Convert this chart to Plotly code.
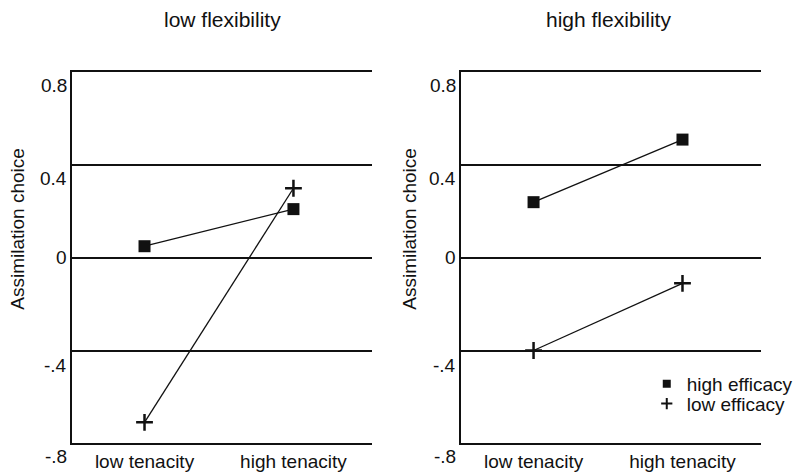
import plotly.graph_objects as go

# ---- data ----
tenacity = ["low tenacity", "high tenacity"]
panel_titles = ["low flexibility", "high flexibility"]
series_names = ["high efficacy", "low efficacy"]
low_flex_high_eff = [0.05, 0.21]
low_flex_low_eff = [-0.71, 0.30]
high_flex_high_eff = [0.24, 0.51]
high_flex_low_eff = [-0.40, -0.11]
y_tick_vals = [0.8, 0.4, 0, -0.4, -0.8]
y_tick_text = ["0.8", "0.4", "0", "-.4", "-.8"]
grid_vals = [-0.4, 0, 0.4]
y_title = "Assimilation choice"

# ---- style ----
W, H = 798, 472
FONT = "Liberation Sans, Arial, sans-serif"
INK = "#111111"
FS = 19
TFS = 21
label_yshift = [-13, -13, 0, -15, -13]

x_pos = list(range(len(tenacity)))

fig = go.Figure()

panels = [
    ("x", "y", low_flex_high_eff, low_flex_low_eff),
    ("x2", "y2", high_flex_high_eff, high_flex_low_eff),
]
for xa, ya, he, le in panels:
    fig.add_trace(go.Scatter(x=x_pos, y=he, xaxis=xa, yaxis=ya, mode="lines+markers",
                             line=dict(color=INK, width=1.3),
                             marker=dict(symbol="square", size=12, color=INK),
                             showlegend=False, cliponaxis=False))
    fig.add_trace(go.Scatter(x=x_pos, y=le, xaxis=xa, yaxis=ya, mode="lines+markers",
                             line=dict(color=INK, width=1.3),
                             marker=dict(symbol="cross-thin", size=12, color=INK,
                                         line=dict(color=INK, width=2.5)),
                             showlegend=False, cliponaxis=False))

# legend entries (markers only), one legend box per entry
fig.add_trace(go.Scatter(x=[None], y=[None], xaxis="x2", yaxis="y2", mode="markers",
                         name=series_names[0], legend="legend",
                         marker=dict(symbol="square", size=8, color=INK)))
fig.add_trace(go.Scatter(x=[None], y=[None], xaxis="x2", yaxis="y2", mode="markers",
                         name=series_names[1], legend="legend2",
                         marker=dict(symbol="cross-thin", size=8, color=INK,
                                     line=dict(color=INK, width=2))))

xdoms = [[73 / W, 380 / W], [470 / W, 777 / W]]
ydom = [(H - 447) / H, (H - 73) / H]

def xaxis_cfg(dom, anchor):
    return dict(domain=dom, anchor=anchor, range=[-0.49, 1.53],
                tickvals=x_pos, ticktext=tenacity, ticks="", showgrid=False,
                zeroline=False, showline=True, mirror=True, linecolor=INK, linewidth=1.6,
                tickfont=dict(family=FONT, size=FS, color=INK), fixedrange=True)

def yaxis_cfg(anchor):
    return dict(domain=ydom, anchor=anchor, range=[-0.8, 0.8],
                tickvals=grid_vals, showticklabels=False, ticks="",
                showgrid=True, gridcolor=INK, gridwidth=1.6, zeroline=False,
                showline=True, mirror=False, linecolor=INK, linewidth=1.6, fixedrange=True)

annotations = []
title_x = [227, 621]
ytitle_x = [17, 417]
for i, (xa, ya) in enumerate([("x", "y"), ("x2", "y2")]):
    annotations.append(dict(text=panel_titles[i], xref="paper", yref="paper",
                            x=title_x[i] / W, y=(H - 20) / H, showarrow=False,
                            xanchor="center", yanchor="middle",
                            font=dict(family=FONT, size=TFS, color=INK)))
    annotations.append(dict(text=y_title, xref="paper", yref="paper",
                            x=ytitle_x[i] / W, y=(H - 231) / H, showarrow=False,
                            textangle=-90, xanchor="center", yanchor="middle",
                            font=dict(family=FONT, size=FS, color=INK)))
    for v, t, s in zip(y_tick_vals, y_tick_text, label_yshift):
        annotations.append(dict(text=t, xref=xa + " domain", yref=ya, x=0, y=v,
                                xanchor="right", yanchor="middle", xshift=-3, yshift=s,
                                showarrow=False,
                                font=dict(family=FONT, size=FS, color=INK)))

legend_common = dict(xanchor="left", yanchor="top", bgcolor="rgba(0,0,0,0)",
                     borderwidth=0, font=dict(family=FONT, size=FS, color=INK),
                     itemwidth=30)

fig.update_layout(
    width=W, height=H,
    margin=dict(l=0, r=0, t=0, b=0),
    paper_bgcolor="white", plot_bgcolor="white",
    xaxis=xaxis_cfg(xdoms[0], "y"),
    yaxis=yaxis_cfg("x"),
    xaxis2=xaxis_cfg(xdoms[1], "y2"),
    yaxis2=yaxis_cfg("x2"),
    annotations=annotations,
    showlegend=True,
    legend=dict(x=660 / W, y=(H - 368) / H, **legend_common),
    legend2=dict(x=660 / W, y=(H - 388) / H, **legend_common),
)

fig.write_html("out.html", config={"displayModeBar": False},
               post_script="document.body.style.margin='0';document.body.style.overflow='hidden';")
